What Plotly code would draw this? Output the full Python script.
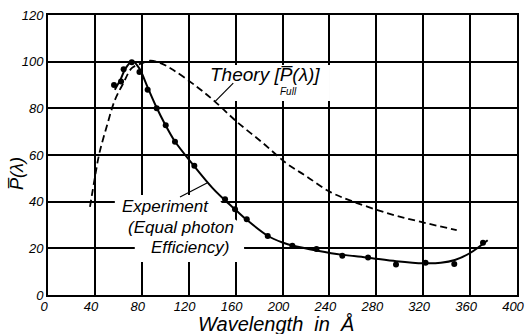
import plotly.graph_objects as go

# Experimental points
exp_x = [56.3, 62.3, 64.5, 71.4, 78.0, 85, 92.7, 100.4, 108.3, 124.8, 151, 159.5, 169.5,
         187.4, 208.4, 229, 251, 273, 296.8, 322, 346.5, 371]
exp_y = [90, 91.5, 96.7, 99.8, 95.6, 88, 80, 72.8, 65.7, 55.4, 41, 36.7, 32.5,
         25.3, 21.1, 19.7, 16.8, 16.1, 13.1, 13.8, 13.3, 22.4]

# Smooth experiment curve
curve_x = [57, 62, 66, 72, 78, 85, 92, 100, 108, 125, 140, 150, 160, 170, 187, 200, 210,
           230, 250, 273, 297, 320, 335, 347, 360, 375]
curve_y = [88, 92.5, 97, 100.3, 97, 89, 81, 73, 66, 55, 46, 41, 36.5, 32, 25.5, 22.5, 21,
           19, 17.3, 16, 14.5, 13.6, 13.8, 15, 18, 23.5]

# Theory curve (dashed)
theory_x = [35.8, 40.1, 43.8, 50, 57.1, 64.2, 71.4, 80, 87, 95, 106.9, 126.8, 142.4,
            160.9, 183.6, 203.5, 220, 240.5, 260.4, 290, 317.3, 348.6]
theory_y = [37.8, 50.7, 60.7, 72.1, 83.6, 90.7, 97.2, 99.3, 100.4, 99.6, 96.4, 89.3, 82.9,
            74.3, 65, 56.4, 51, 44.2, 40, 35, 31.4, 27.8]

x_ticks = [0, 40, 80, 120, 160, 200, 240, 280, 320, 360, 400]
y_ticks = [0, 20, 40, 60, 80, 100, 120]

FONT = "Liberation Sans"

fig = go.Figure()
fig.add_trace(go.Scatter(x=theory_x, y=theory_y, mode="lines",
                         line=dict(color="black", width=1.8, dash="7px,4px", shape="spline"),
                         hoverinfo="skip"))
fig.add_trace(go.Scatter(x=curve_x, y=curve_y, mode="lines",
                         line=dict(color="black", width=2, shape="spline", smoothing=0.8),
                         hoverinfo="skip"))
fig.add_trace(go.Scatter(x=exp_x, y=exp_y, mode="markers",
                         marker=dict(color="black", size=6), hoverinfo="skip"))

# white boxes behind labels (cover grid, shaped to avoid the curves)
fig.add_shape(type="path", layer="above", fillcolor="white", line=dict(width=0),
              path="M 135,98.6 L 240.5,98.6 L 240.5,83.1 L 152,83.1 L 142,87.5 L 135,93 Z")
fig.add_shape(type="path", layer="above", fillcolor="white", line=dict(width=0),
              path="M 57,42.9 L 143,42.9 L 158,33 L 166,30 L 168,14.1 L 74,14.1 L 74,23.5 L 57,23.5 Z")

# leader lines
fig.add_shape(type="line", x0=142.4, y0=82.9, x1=158, y1=90.8, layer="above",
              line=dict(color="black", width=1.2))
fig.add_shape(type="line", x0=112.6, y0=42, x1=135.6, y1=48, layer="above",
              line=dict(color="black", width=1.2))

def it(s):
    return "<i>" + s + "</i>"

fig.add_annotation(x=(265 - 48) / 1.1725, y=(295 - 75) / 2.333, text=it("Theory [P\u0305(\u03bb)]"),
                   showarrow=False, font=dict(family=FONT, size=19, color="black"))
fig.add_annotation(x=(288 - 48) / 1.1725, y=(295 - 92) / 2.333, text=it("Full"),
                   showarrow=False, font=dict(family=FONT, size=10, color="black"))
fig.add_annotation(x=(165 - 48) / 1.1725, y=(295 - 207) / 2.333, text=it("Experiment"),
                   showarrow=False, font=dict(family=FONT, size=17, color="black"))
fig.add_annotation(x=(181 - 48) / 1.1725, y=(295 - 228) / 2.333, text=it("(Equal photon"),
                   showarrow=False, font=dict(family=FONT, size=17, color="black"))
fig.add_annotation(x=(190 - 48) / 1.1725, y=(295 - 248) / 2.333, text=it("Efficiency)"),
                   showarrow=False, font=dict(family=FONT, size=17, color="black"))

# axis titles placed as annotations
fig.add_annotation(xref="paper", yref="y", x=(17 - 48) / 469, y=(295 - 174) / 2.333,
                   xanchor="center", yanchor="middle",
                   text=it("P\u0305(\u03bb)"), textangle=-90, showarrow=False,
                   font=dict(family=FONT, size=18, color="black"))
fig.add_annotation(xref="paper", yref="paper", x=(276 - 48) / 469, y=(295 - 324) / 280,
                   xanchor="center", yanchor="middle",
                   text=it("Wavelength  in  \u00c5"), showarrow=False,
                   font=dict(family=FONT, size=20, color="black"))

axis_common = dict(showgrid=True, gridcolor="black", gridwidth=1.5, showline=True,
                   linecolor="black", linewidth=2, mirror=True, zeroline=False,
                   ticklabeloverflow="allow",
                   tickfont=dict(family=FONT, size=13, color="black"))

fig.update_xaxes(range=[0, 400], tickmode="array", tickvals=x_ticks,
                 ticktext=[it(str(v)) for v in x_ticks], ticklabelstandoff=-2,
                 ticklabelshift=-4,
                 **axis_common)
fig.update_yaxes(range=[0, 120], tickmode="array", tickvals=y_ticks,
                 ticktext=[it(str(v)) for v in y_ticks],
                 **axis_common)

fig.update_layout(width=526, height=334, margin=dict(l=48, r=9, t=15, b=39),
                  template="none",
                  plot_bgcolor="white", paper_bgcolor="white", showlegend=False)

fig.write_html("out.html")
